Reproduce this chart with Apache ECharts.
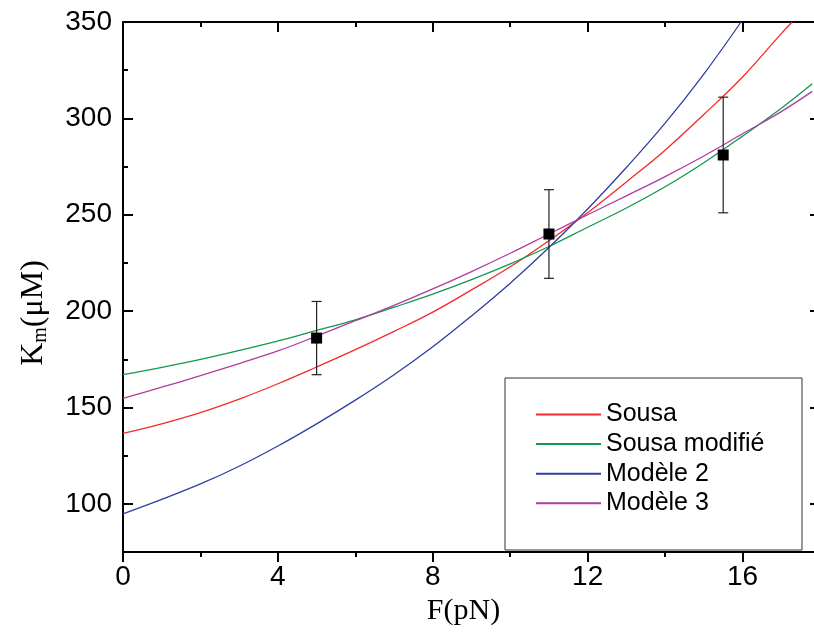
<!DOCTYPE html>
<html>
<head>
<meta charset="utf-8">
<style>
  html, body { margin: 0; padding: 0; background: #fff; }
  #chart { width: 814px; height: 636px; }
</style>
<script src="https://cdn.jsdelivr.net/npm/echarts@6/dist/echarts.min.js"></script>
</head>
<body>
<div id="chart"></div>
<script>
// curves (F in pN, Km in µM)
const sousaF = [0, 1, 2, 3, 4, 5, 6, 7, 8, 9, 10, 11, 12, 13, 14, 15, 16, 17, 17.28];
const sousaKm = [136.5, 141.5, 147.3, 154.3, 162.3, 171, 180, 189.5, 199.5, 211, 223, 236.5, 251, 267, 283.5, 302, 321.5, 344, 350];

const sousaModF = [0, 2, 4, 5, 6, 7, 8, 9, 10, 11, 12, 13, 14, 15, 16, 17, 17.8];
const sousaModKm = [167, 175, 184.5, 190, 195.5, 202, 208.8, 216.3, 224.5, 233.5, 243.5, 253.5, 264.5, 277, 290.8, 305.3, 318];

const modele2F = [0, 1, 2, 3, 4, 5, 6, 7, 8, 9, 10, 11, 12, 13, 14, 15, 15.96];
const modele2Km = [94.8, 102.3, 110.3, 119.5, 130, 141.5, 153.8, 167, 181.5, 197.5, 214.5, 233, 253, 274.5, 297.5, 323, 350];

const modele3F = [0, 1, 2, 3, 4, 5, 6, 7, 8, 9, 10, 11, 12, 13, 14, 15, 16, 17, 17.8];
const modele3Km = [154.7, 160.5, 166.5, 172.8, 179.3, 187, 195, 203, 211.5, 220.5, 230, 240, 250, 259.8, 269.8, 280.5, 292, 303.5, 314];

// measured points with error bars
const pointF = [5, 11, 15.5];
const pointKm = [186, 240, 281];
const errLow = [167, 217, 251];
const errHigh = [205, 263, 311];

const yMajor = [100, 150, 200, 250, 300, 350];
const yMinor = [125, 175, 225, 275, 325];

const sansFont = '"Liberation Sans", Arial, sans-serif';
const serifFont = '"Liberation Serif", "Times New Roman", serif';

const pairs = (xs, ys) => xs.map((x, i) => [x, ys[i]]);

const chart = echarts.init(document.getElementById('chart'));

const curve = (name, xs, ys, color) => ({
  name,
  type: 'line',
  data: pairs(xs, ys),
  smooth: 0.4,
  symbol: 'none',
  clip: true,
  lineStyle: { color, width: 1.3 },
  itemStyle: { color },
  z: 3
});

const option = {
  animation: false,
  backgroundColor: '#fff',
  grid: { left: 123, top: 22, width: 697, height: 530, containLabel: false, outerBoundsMode: 'none' },
  graphic: [{
    type: 'rect',
    shape: { x: 505, y: 378, width: 297, height: 172 },
    style: { fill: '#fff', stroke: '#333', lineWidth: 1 },
    z: 5
  }],
  legend: {
    orient: 'vertical',
    left: 535,
    top: 402,
    padding: 0,
    itemWidth: 65,
    itemHeight: 20,
    itemGap: 4.6,
    z: 10,
    itemStyle: { opacity: 0 },
    textStyle: { fontFamily: sansFont, fontSize: 25, color: '#000' },
    data: ['Sousa', 'Sousa modifié', 'Modèle 2', 'Modèle 3']
  },
  xAxis: [{
    type: 'value',
    position: 'bottom',
    min: 0,
    max: 18,
    interval: 4,
    name: 'F(pN)',
    nameLocation: 'middle',
    nameGap: 38,
    nameTextStyle: { fontFamily: serifFont, fontSize: 30, color: '#000', padding: [0, 16, 0, 0] },
    axisLine: { lineStyle: { color: '#000', width: 2 } },
    axisTick: { inside: false, length: 10, lineStyle: { color: '#000', width: 2 } },
    minorTick: { show: true, splitNumber: 2, length: 5, lineStyle: { color: '#000', width: 2 } },
    axisLabel: { fontFamily: sansFont, fontSize: 28, color: '#000', margin: 11, showMaxLabel: false },
    splitLine: { show: false }
  }, {
    type: 'value',
    position: 'top',
    min: 0,
    max: 18,
    interval: 4,
    axisLine: { lineStyle: { color: '#000', width: 2 } },
    axisTick: { inside: true, length: 10, lineStyle: { color: '#000', width: 2 } },
    minorTick: { show: true, splitNumber: 2, length: 5, lineStyle: { color: '#000', width: 2 } },
    axisLabel: { show: false },
    splitLine: { show: false }
  }],
  yAxis: [{
    type: 'value',
    position: 'left',
    min: 75,
    max: 350,
    name: '{k|K}{m|m}{k|(μM)}',
    nameLocation: 'middle',
    nameGap: 72,
    nameTextStyle: {
      fontFamily: serifFont,
      color: '#000',
      padding: [0, 52, 0, 0],
      rich: {
        k: { fontFamily: serifFont, fontSize: 32, color: '#000' },
        m: { fontFamily: serifFont, fontSize: 20, color: '#000', padding: [14, 0, 0, 0] }
      }
    },
    axisLine: { lineStyle: { color: '#000', width: 2 } },
    axisTick: { inside: true, length: 10, customValues: yMajor, lineStyle: { color: '#000', width: 2 } },
    axisLabel: { customValues: yMajor, fontFamily: sansFont, fontSize: 28, color: '#000', margin: 11 },
    splitLine: { show: false }
  }, {
    type: 'value',
    position: 'left',
    min: 75,
    max: 350,
    axisLine: { show: false },
    axisTick: { inside: true, length: 5, customValues: yMinor, lineStyle: { color: '#000', width: 2 } },
    axisLabel: { show: false },
    splitLine: { show: false }
  }, {
    type: 'value',
    position: 'right',
    min: 75,
    max: 350,
    axisLine: { lineStyle: { color: '#000', width: 2 } },
    axisTick: { inside: true, length: 10, customValues: yMajor, lineStyle: { color: '#000', width: 2 } },
    axisLabel: { show: false },
    splitLine: { show: false }
  }],
  series: [
    curve('Sousa', sousaF, sousaKm, '#f42a2a'),
    curve('Sousa modifié', sousaModF, sousaModKm, '#0f9a4e'),
    curve('Modèle 2', modele2F, modele2Km, '#2e3f9e'),
    curve('Modèle 3', modele3F, modele3Km, '#b23b9f'),
    {
      type: 'custom',
      data: pointF.map((f, i) => [f, errLow[i], errHigh[i]]),
      encode: { x: 0, y: [1, 2] },
      z: 4,
      renderItem: function (params, api) {
        const lo = api.coord([api.value(0), api.value(1)]);
        const hi = api.coord([api.value(0), api.value(2)]);
        const w = 5;
        const style = { stroke: '#222', lineWidth: 1.2 };
        return {
          type: 'group',
          children: [
            { type: 'line', shape: { x1: lo[0], y1: lo[1], x2: hi[0], y2: hi[1] }, style },
            { type: 'line', shape: { x1: lo[0] - w, y1: lo[1], x2: lo[0] + w, y2: lo[1] }, style },
            { type: 'line', shape: { x1: hi[0] - w, y1: hi[1], x2: hi[0] + w, y2: hi[1] }, style }
          ]
        };
      }
    },
    {
      type: 'scatter',
      data: pairs(pointF, pointKm),
      symbol: 'rect',
      symbolSize: 11,
      itemStyle: { color: '#000', opacity: 1 },
      z: 5
    }
  ]
};

chart.setOption(option);
</script>
</body>
</html>
